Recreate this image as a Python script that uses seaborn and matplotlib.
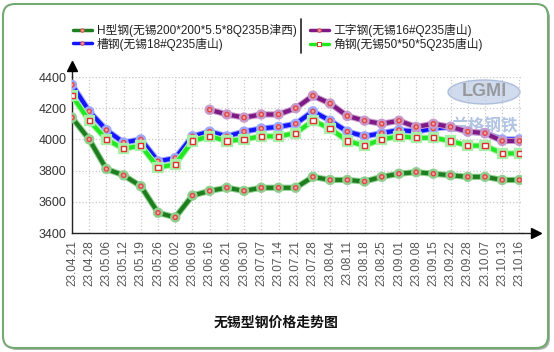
import numpy as np
import pandas as pd
import matplotlib
matplotlib.use("Agg")
import matplotlib.pyplot as plt
import matplotlib.patheffects as pe
from matplotlib.patches import FancyBboxPatch, Ellipse
from matplotlib.lines import Line2D
import seaborn as sns

dates = ["23.04.21", "23.04.28", "23.05.06", "23.05.12", "23.05.19", "23.05.26",
         "23.06.02", "23.06.09", "23.06.16", "23.06.21", "23.06.30", "23.07.07",
         "23.07.14", "23.07.21", "23.07.28", "23.08.04", "23.08.11", "23.08.18",
         "23.08.25", "23.09.01", "23.09.08", "23.09.15", "23.09.22", "23.09.28",
         "23.10.07", "23.10.13", "23.10.16"]

h_beam = [4140, 4000, 3810, 3770, 3700, 3530, 3500, 3640, 3670, 3690, 3670, 3690,
          3690, 3690, 3760, 3740, 3740, 3730, 3760, 3780, 3790, 3780, 3770, 3760,
          3760, 3740, 3740]
channel = [4350, 4180, 4060, 3980, 4000, 3860, 3880, 4020, 4050, 4020, 4050, 4070,
           4080, 4100, 4180, 4120, 4050, 4020, 4040, 4060, 4050, 4070, 4080, 4050,
           4040, 4000, 4000]
i_beam = [None] * 8 + [4190, 4160, 4140, 4160, 4160, 4200, 4280, 4230, 4150, 4120,
                       4100, 4120, 4080, 4100, 4080, 4050, 4040, 3990, 3990]
angle = [4280, 4120, 4000, 3940, 3960, 3820, 3840, 3990, 4020, 3990, 4000, 4020,
         4020, 4040, 4120, 4070, 3990, 3960, 4000, 4020, 4010, 4010, 3990, 3960,
         3960, 3910, 3910]

names = ["H型钢(无锡200*200*5.5*8Q235B津西)", "槽钢(无锡18#Q235唐山)",
         "工字钢(无锡16#Q235唐山)", "角钢(无锡50*50*5Q235唐山)"]
yticks = [3400, 3600, 3800, 4000, 4200, 4400]
title = "无锡型钢价格走势图"

sns.set_style("white")
plt.rcParams["font.family"] = ["Liberation Sans", "Noto Sans CJK SC", "DejaVu Sans"]

W, H = 554, 352
fig = plt.figure(figsize=(W / 100, H / 100), dpi=100)

# rounded border with shadow
shadow = FancyBboxPatch((5, 2), 545, 344, boxstyle="round,pad=0,rounding_size=12",
                        transform=None, facecolor="#b0b0b0", edgecolor="none", zorder=-3)
border = FancyBboxPatch((3, 4), 545, 344, boxstyle="round,pad=0,rounding_size=12",
                        transform=None, facecolor="white", edgecolor="#72aa72",
                        linewidth=1.5, zorder=-2)
fig.patches.extend([shadow, border])

# watermark
fig.patches.append(Ellipse((484, 352 - 92), 72, 24, transform=None,
                           facecolor="#c5d3ea", edgecolor="#9fb2d6", lw=1, alpha=0.8, zorder=-1))
fig.text(484 / W, 1 - 92 / H, "LGMI", ha="center", va="center", fontsize=13,
         color="#8e8e8e", fontweight="bold", alpha=0.85, zorder=-1)
fig.text(484 / W, 1 - 126 / H, "兰格钢铁", ha="center", va="center", fontsize=12,
         color="#a9bde0", fontweight="bold", alpha=0.9, zorder=-1,
         family=["Noto Sans CJK SC", "DejaVu Sans"])

ax = fig.add_axes([72 / W, 119 / H, 450 / W, 156 / H])
ax.set_facecolor("none")
ax.set_zorder(1)

x = np.arange(len(dates))
styles = [
    (h_beam, "#1e7d1e", "#8fd08f", "o", "#f4a0a0", "#e04848", 3.0),
    (channel, "#1414ff", "#9fa8ff", "o", "#f4a0a0", "#e04848", 3.0),
    (i_beam, "#7d1a85", "#c89acb", "o", "#f4a0a0", "#e04848", 3.0),
    (angle, "#22e822", "#a8f0a8", "s", "white", "#e03030", 3.8),
]
handles = []
for (vals, col, halo, mk, mfc, mec, ms), name in zip(styles, names):
    df = pd.DataFrame({"x": x, "y": pd.array(vals, dtype="Float64")}).dropna()
    df["y"] = df["y"].astype(float)
    sns.lineplot(data=df, x="x", y="y", ax=ax, color=col, linewidth=3,
                 estimator=None, sort=False, marker=mk, markersize=ms,
                 markerfacecolor=mfc, markeredgecolor=mec, markeredgewidth=1,
                 path_effects=[pe.Stroke(linewidth=4.5, foreground=halo), pe.Normal()],
                 zorder=3)
    handles.append(Line2D([], [], color=col, linewidth=2.5, marker=mk,
                          markersize=2.5 if mk == "o" else 3, markerfacecolor=mfc,
                          markeredgecolor=mec, markeredgewidth=0.7, label=name))

ax.set_xlim(0, 26.15)
ax.set_ylim(3400, 4400)
ax.set_xticks(x)
ax.set_xticklabels(dates, rotation=90, fontsize=8.5, color="#555555")
ax.set_yticks(yticks)
ax.set_yticklabels([str(v) for v in yticks], fontsize=9, color="#333333")
ax.set_xlabel("")
ax.set_ylabel("")
ax.grid(True, color="#c8c8c8", linestyle=":", linewidth=0.9)
ax.tick_params(axis="x", direction="inout", length=6, width=0.8, pad=2, color="#333333")
ax.tick_params(axis="y", direction="out", length=3, width=0.8, pad=1, color="#333333")
for s in ["top", "right"]:
    ax.spines[s].set_visible(False)
for s in ["left", "bottom"]:
    ax.spines[s].set_color("#222222")
    ax.spines[s].set_linewidth(1)

# axis arrows
ax.plot([1, 1.03], [0, 0], transform=ax.transAxes, color="#222222", lw=1, clip_on=False)
ax.plot([1.03], [0], transform=ax.transAxes, marker=">", color="black", ms=7, clip_on=False)
ax.plot([0, 0], [1, 1.06], transform=ax.transAxes, color="#222222", lw=1, clip_on=False)
ax.plot([0], [1.07], transform=ax.transAxes, marker="^", color="black", ms=7, clip_on=False)

# legends
leg1 = fig.legend(handles=handles[:2], loc="upper left", bbox_to_anchor=(67 / W, 1 - 18 / H),
                  frameon=False, fontsize=8.5, handlelength=1.6, handletextpad=0.4,
                  borderpad=0, labelspacing=0.05, labelcolor="#222222")
leg2 = fig.legend(handles=handles[2:], loc="upper left", bbox_to_anchor=(304 / W, 1 - 18 / H),
                  frameon=False, fontsize=8.5, handlelength=1.6, handletextpad=0.4,
                  borderpad=0, labelspacing=0.05, labelcolor="#222222")
fig.add_artist(Line2D([301 / W, 301 / W], [1 - 19 / H, 1 - 53 / H], color="#222222", lw=1.2))

fig.text(276 / W, 1 - 323 / H, title, ha="center", va="center", fontsize=10,
         fontweight="bold", color="#111111")

fig.savefig("out.png", dpi=100)
